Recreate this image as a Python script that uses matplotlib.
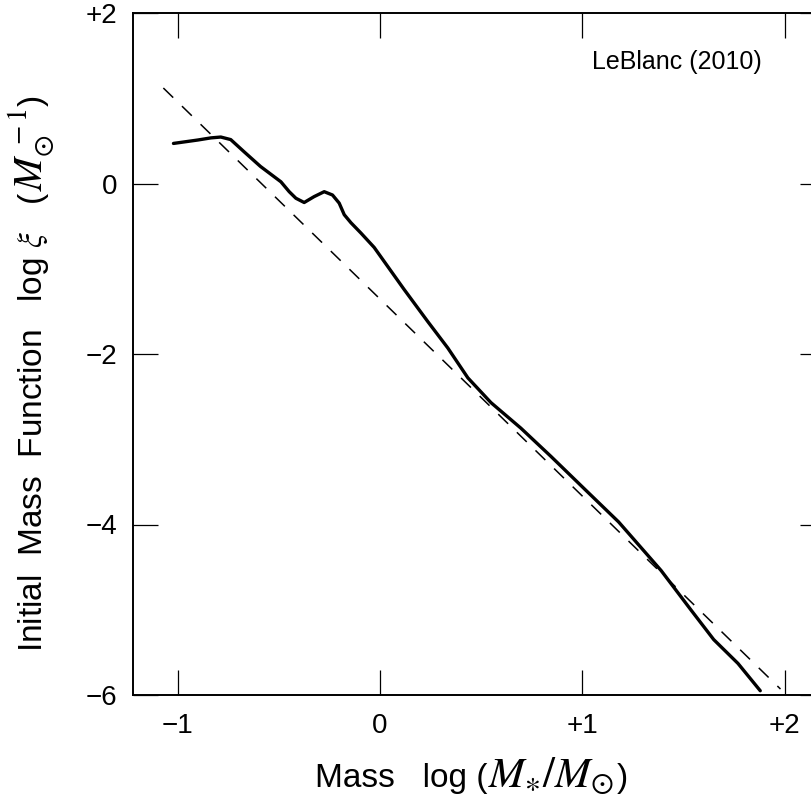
import matplotlib.pyplot as plt

plt.rcParams['font.family'] = ['Liberation Sans', 'DejaVu Sans']
plt.rcParams['mathtext.fontset'] = 'stix'

# IMF curve: log mass vs log xi
log_mass = [-1.02, -0.90, -0.835, -0.786, -0.737, -0.67, -0.59, -0.489, -0.448, -0.415,
            -0.374, -0.325, -0.275, -0.234, -0.201, -0.176, -0.143, -0.094, -0.028,
            0.119, 0.237, 0.336, 0.435, 0.549, 0.697, 0.845, 1.01, 1.18, 1.39,
            1.54, 1.65, 1.77, 1.88]
log_xi = [0.47, 0.51, 0.535, 0.545, 0.515, 0.37, 0.20, 0.02, -0.096, -0.173,
          -0.223, -0.154, -0.096, -0.135, -0.23, -0.366, -0.46, -0.58, -0.75,
          -1.24, -1.62, -1.93, -2.28, -2.57, -2.87, -3.20, -3.58, -3.97, -4.54,
          -5.01, -5.35, -5.63, -5.95]

# Salpeter-like power law (dashed)
salp_x = [-1.07, 1.98]
salp_y = [1.12, -5.93]

xticks = [-1, 0, 1, 2]
xticklabels = ['\u22121', '0', '+1', '+2']
yticks = [2, 0, -2, -4, -6]
yticklabels = ['+2', '0', '\u22122', '\u22124', '\u22126']

W, H = 811, 800
fig = plt.figure(figsize=(W / 100, H / 100), dpi=100)
ax = fig.add_axes([133 / W, 105 / H, (825 - 133) / W, (695 - 13) / H])

ax.plot(log_mass, log_xi, color='black', linewidth=2.4,
        solid_capstyle='round', solid_joinstyle='round')
ax.plot(salp_x, salp_y, color='black', linewidth=1.1, dashes=(9, 8))

ax.set_xlim(-1.22, 2.2)
ax.set_ylim(-6, 2)

ax.set_xticks(xticks)
ax.set_xticklabels(xticklabels)
ax.set_yticks(yticks)
ax.set_yticklabels(yticklabels)
ax.tick_params(direction='in', length=18, width=0.9, labelsize=20,
               top=True, right=True)
ax.tick_params(axis='x', pad=13)
ax.tick_params(axis='y', pad=11)
for sp in ax.spines.values():
    sp.set_linewidth(1.4)

ax.text(677 / W, 1 - 62 / H, 'LeBlanc (2010)', transform=fig.transFigure,
        ha='center', va='center', fontsize=18)

renderer = fig.canvas.get_renderer()


def chain(pieces, x0, y0, rotation=0):
    # lay text pieces end to end (pixel coords, origin bottom-left)
    pos = x0 if rotation == 0 else y0
    for s, size, gap in pieces:
        if rotation == 0:
            t = fig.text(pos / W, y0 / H, s, fontsize=size, ha='left',
                         va='baseline')
            pos += t.get_window_extent(renderer).width + gap
        else:
            t = fig.text(x0 / W, pos / H, s, fontsize=size, ha='left',
                         va='baseline', rotation=90, rotation_mode='anchor')
            pos += t.get_window_extent(renderer).height + gap


chain([('Mass   log (', 24, 1),
       (r'$M_{\ast}/M_{\odot}$', 31, 3),
       (')', 24, 0)], 315, 13)

chain([(r'Initial  Mass  Function   log $\xi$   (', 24, 1),
       (r'$M_{\odot}^{\,-1}$', 29, 2),
       (')', 24, 0)], 42, H - 652, rotation=90)

fig.savefig('out.png', dpi=100)
